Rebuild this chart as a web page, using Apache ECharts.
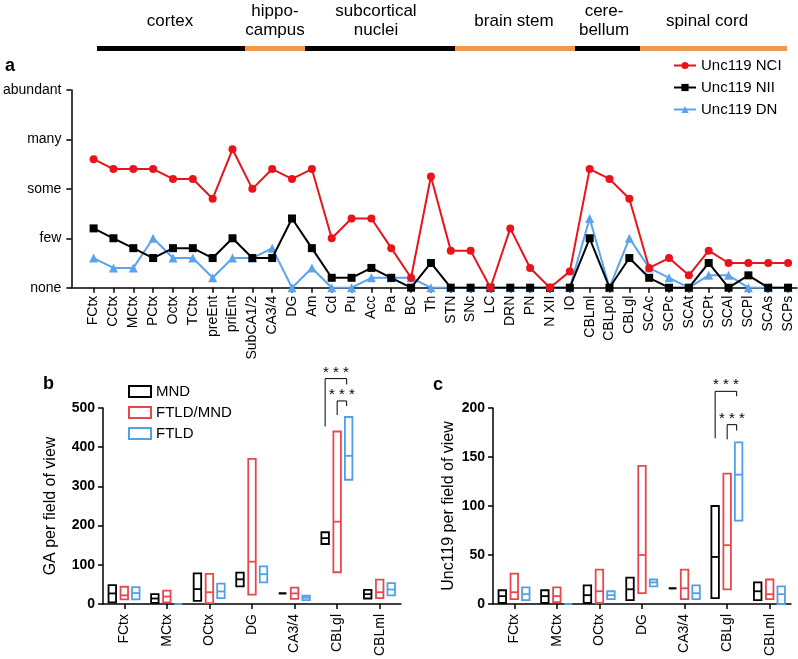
<!DOCTYPE html>
<html><head><meta charset="utf-8">
<script src="https://cdn.jsdelivr.net/npm/echarts@6/dist/echarts.min.js"></script>
<style>html,body{margin:0;padding:0;background:#fff}#c{width:798px;height:659px}</style>
</head><body><div id="c"></div>
<script>
// ---------- data ----------
const regionNames = ['cortex', 'hippo-\ncampus', 'subcortical\nnuclei', 'brain stem', 'cere-\nbellum', 'spinal cord'];
const areas = ['FCtx','CCtx','MCtx','PCtx','Octx','TCtx','preEnt','priEnt','SubCA1/2','CA3/4','DG','Am','Cd','Pu','Acc','Pa','BC','Th','STN','SNc','LC','DRN','PN','N XII','IO','CBLml','CBLpcl','CBLgl','SCAc','SCPc','SCAt','SCPt','SCAl','SCPl','SCAs','SCPs'];
const levels = ['none','few','some','many','abundant'];
const nci = [2.6,2.4,2.4,2.4,2.2,2.2,1.8,2.8,2.0,2.4, 2.2,2.4,1.0,1.4,1.4,0.8,0.2,2.25,0.75,0.75, 0,1.2,0.4,0,0.33,2.4,2.2,1.8,0.4,0.6, 0.25,0.75,0.5,0.5,0.5,0.5];
const nii = [1.2,1.0,0.8,0.6,0.8,0.8,0.6,1.0,0.6,0.6, 1.4,0.8,0.2,0.2,0.4,0.2,0,0.5,0,0, 0,0,0,0,0,1.0,0,0.6,0.2,0, 0,0.5,0,0.25,0,0];
const dn  = [0.6,0.4,0.4,1.0,0.6,0.6,0.2,0.6,0.6,0.8, 0,0.4,0,0,0.2,0.2,0.2,0,0,0, 0,0,0,0,0,1.4,0,1.0,0.4,0.2, 0,0.25,0.25,0,0,0];

const boxCats = ['FCtx','MCtx','OCtx','DG','CA3/4','CBLgl','CBLml'];
const groupNames = ['MND','FTLD/MND','FTLD'];
// [low, median, high]
const gaMND      = [[4,27,48],[3,14,25],[8,38,78],[45,63,80],[27,27,27],[153,168,183],[14,25,36]];
const gaFTLDMND  = [[12,22,44],[4,19,34],[2,30,77],[24,108,370],[13,27,42],[81,210,440],[15,30,62]];
const gaFTLD     = [[12,28,43],[0,0,0],[15,32,52],[55,76,96],[10,16,21],[317,378,477],[22,37,53]];
const uncMND     = [[1,8,14],[1,8,14],[1,9,19],[4,15,27],[16,16,16],[6,48,100],[4,13,22]];
const uncFTLDMND = [[5,12,31],[2,8,17],[1,13,35],[11,50,141],[5,16,35],[15,60,133],[5,10,25]];
const uncFTLD    = [[4,10,17],[0,0,0],[5,9,13],[18,22,25],[5,11,19],[85,132,165],[0,10,18]];
// significance: [category, fromGroup, toGroup, fromBottom, top, toBottom]
const gaSig  = [[5,0,2,453,575,560],[5,1,2,482,518,505]];
const uncSig = [[5,0,2,169,217,212],[5,1,2,168,183,177]];

// ---------- styles ----------
const FONT = 'Liberation Sans, Arial, Helvetica, sans-serif';
const lineColors = {nci:'#e8131b', nii:'#000000', dn:'#5ca3ee'};
const boxColors = ['#000000','#e8484d','#4f9fea'];
const boxOffs = [-12, 0, 11.5];
const sigOffs = [-12, 0, 9.5];
const orange = '#ee9a4d';

const chart = echarts.init(document.getElementById('c'));
const idx = areas.map((_, i) => i);

function boxRender(off, color) {
  return function (params, api) {
    const c = api.value(0);
    const lo = api.coord([c, api.value(1)]);
    const md = api.coord([c, api.value(2)]);
    const hi = api.coord([c, api.value(3)]);
    const x = lo[0] + off, w = 7.5;
    return {type:'group', children:[
      {type:'rect', shape:{x:x-w/2, y:hi[1], width:w, height:lo[1]-hi[1]}, style:{fill:null, stroke:color, lineWidth:1.8}},
      {type:'line', shape:{x1:x-w/2, y1:md[1], x2:x+w/2, y2:md[1]}, style:{stroke:color, lineWidth:1.8}}
    ]};
  };
}
function sigRender(params, api) {
  const c = api.value(0);
  const a = api.coord([c, api.value(3)]);
  const t = api.coord([c, api.value(4)]);
  const b = api.coord([c, api.value(5)]);
  const xa = a[0] + sigOffs[api.value(1)], xb = a[0] + sigOffs[api.value(2)];
  return {type:'group', children:[
    {type:'polyline', shape:{points:[[xa,a[1]],[xa,t[1]],[xb,t[1]],[xb,b[1]]]}, style:{fill:null, stroke:'#000', lineWidth:1}},
    {type:'text', style:{text:'* * *', x:(xa+xb)/2, y:t[1]-6, align:'center', verticalAlign:'middle', font:'15px '+FONT, fill:'#000'}}
  ]};
}
const toBox = arr => arr.map((d, i) => [i, d[0], d[1], d[2]]);

function boxSeries(data, g, axisIdx) {
  return {name:groupNames[g], type:'custom', xAxisIndex:axisIdx, yAxisIndex:axisIdx,
    itemStyle:{color:boxColors[g]}, renderItem:boxRender(boxOffs[g], boxColors[g]),
    encode:{x:0, y:[1,2,3]}, data:toBox(data), clip:false, z:3};
}

// header graphics
const segEdges = [97,245,305,455,575,640,787];
const textCenters = [170,275,376,514,604,707];
const graphics = [];
for (let i = 0; i < regionNames.length; i++) {
  graphics.push({type:'rect', shape:{x:segEdges[i], y:46, width:segEdges[i+1]-segEdges[i], height:5},
    style:{fill: i % 2 ? orange : '#000'}});
  graphics.push({type:'text', style:{text:regionNames[i], x:textCenters[i], y:21, align:'center', verticalAlign:'middle',
    font:'17px '+FONT, fill:'#000', lineHeight:19}});
}
graphics.push({type:'text', style:{text:'a', x:5, y:66, verticalAlign:'middle', font:'bold 18px '+FONT, fill:'#000'}});
graphics.push({type:'text', style:{text:'b', x:43, y:384, verticalAlign:'middle', font:'bold 18px '+FONT, fill:'#000'}});
graphics.push({type:'text', style:{text:'c', x:433, y:385, verticalAlign:'middle', font:'bold 18px '+FONT, fill:'#000'}});

const axisLine = {show:true, onZero:false, lineStyle:{color:'#000', width:1.5}};
const tickStyle = {lineStyle:{color:'#000', width:1.5}};

const option = {
  animation:false,
  textStyle:{fontFamily:FONT},
  graphic:graphics,
  grid:[
    {left:71, right:1, top:90, bottom:371.3},
    {left:103, top:408, width:298, height:197.3},
    {left:493, top:408, width:298, height:197.3}
  ],
  legend:[
    {data:['Unc119 NCI','Unc119 NII','Unc119 DN'], orient:'vertical', left:668, top:53, itemWidth:22, itemHeight:9, itemGap:7,
     textStyle:{fontSize:15, color:'#000', fontFamily:FONT}},
    {data:groupNames.map((n, i) => ({name:n, icon:'rect', itemStyle:{color:'#fff', borderColor:boxColors[i], borderWidth:2}})),
     orient:'vertical', left:123, top:379, itemWidth:22, itemHeight:11, itemGap:6,
     textStyle:{fontSize:15, color:'#000', fontFamily:FONT}}
  ],
  xAxis:[
    {type:'value', gridIndex:0, min:-1.12, max:35.45, axisLine:axisLine,
     axisTick:Object.assign({show:true, length:5, customValues:idx}, tickStyle),
     axisLabel:{customValues:idx, rotate:90, margin:8, fontSize:14, color:'#000', formatter:v => areas[Math.round(v)] || ''},
     splitLine:{show:false}},
    {type:'category', gridIndex:1, data:boxCats, axisLine:axisLine,
     axisTick:Object.assign({show:true, alignWithLabel:true, length:5}, tickStyle),
     axisLabel:{rotate:90, margin:10, fontSize:14, color:'#000'}},
    {type:'category', gridIndex:2, data:boxCats, axisLine:axisLine,
     axisTick:Object.assign({show:true, alignWithLabel:true, length:5}, tickStyle),
     axisLabel:{rotate:90, margin:10, fontSize:14, color:'#000'}}
  ],
  yAxis:[
    {type:'value', gridIndex:0, min:0, max:4, interval:1, axisLine:axisLine,
     axisTick:Object.assign({show:true, length:5}, tickStyle),
     axisLabel:{margin:10, fontSize:14, color:'#000', formatter:v => levels[v]},
     splitLine:{show:false}},
    {type:'value', gridIndex:1, min:0, max:500, interval:100, axisLine:axisLine,
     axisTick:Object.assign({show:true, length:5}, tickStyle),
     axisLabel:{margin:8, fontSize:14, fontWeight:'bold', color:'#000'},
     splitLine:{show:false},
     name:'GA per field of view', nameLocation:'middle', nameGap:44, nameTextStyle:{fontSize:16, color:'#000'}},
    {type:'value', gridIndex:2, min:0, max:200, interval:50, axisLine:axisLine,
     axisTick:Object.assign({show:true, length:5}, tickStyle),
     axisLabel:{margin:8, fontSize:14, fontWeight:'bold', color:'#000'},
     splitLine:{show:false},
     name:'Unc119 per field of view', nameLocation:'middle', nameGap:36, nameTextStyle:{fontSize:16, color:'#000'}}
  ],
  series:[
    {name:'Unc119 DN', type:'line', xAxisIndex:0, yAxisIndex:0, data:dn.map((v,i)=>[i,v]),
     symbol:'triangle', symbolSize:9, color:lineColors.dn, lineStyle:{width:2}, z:2},
    {name:'Unc119 NII', type:'line', xAxisIndex:0, yAxisIndex:0, data:nii.map((v,i)=>[i,v]),
     symbol:'rect', symbolSize:8, color:lineColors.nii, lineStyle:{width:2}, z:3},
    {name:'Unc119 NCI', type:'line', xAxisIndex:0, yAxisIndex:0, data:nci.map((v,i)=>[i,v]),
     symbol:'circle', symbolSize:8, color:lineColors.nci, lineStyle:{width:2}, z:4},
    boxSeries(gaMND, 0, 1), boxSeries(gaFTLDMND, 1, 1), boxSeries(gaFTLD, 2, 1),
    boxSeries(uncMND, 0, 2), boxSeries(uncFTLDMND, 1, 2), boxSeries(uncFTLD, 2, 2),
    {type:'custom', xAxisIndex:1, yAxisIndex:1, renderItem:sigRender, data:gaSig, clip:false, silent:true},
    {type:'custom', xAxisIndex:2, yAxisIndex:2, renderItem:sigRender, data:uncSig, clip:false, silent:true}
  ]
};
chart.setOption(option);
</script></body></html>
